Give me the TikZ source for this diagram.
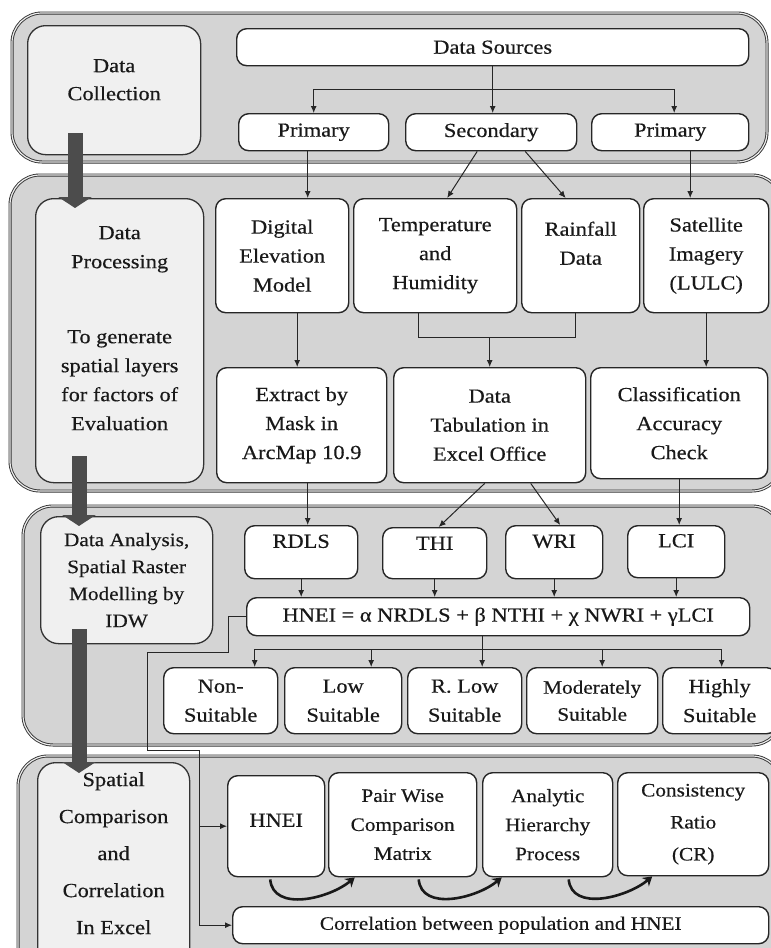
\documentclass[tikz,border=0pt]{standalone}
\usepackage{fontspec}
\setmainfont{Liberation Serif}[FakeStretch=1.12, FakeBold=0.4]
\usetikzlibrary{calc,arrows.meta}

\begin{document}
\begin{tikzpicture}[x=1pt, y=-1pt,
		font=\fontsize{20}{29}\selectfont,
		sect/.style={draw=black!80, line width=0.9pt, double=black!8, double distance=1.2pt, fill=black!17, rounded corners=30pt},
		side/.style={draw=black!80, line width=1.3pt, fill=black!6, rounded corners=18pt, align=center, inner sep=0pt, anchor=north west, text=black!90},
		box/.style={draw=black!85, line width=1.4pt, fill=white, rounded corners=10pt, align=center, inner sep=0pt, anchor=north west, text=black!90},
		link/.style={line width=1pt, draw=black!85},
		arr/.style={link, -{Latex[length=7pt,width=6pt]}},
		bigarrow/.style={line width=15pt, draw=black!70, -{Triangle[length=11pt,width=33pt]}},
		curvy/.style={line width=2.6pt, draw=black!90, -{Stealth[length=9pt,width=11pt]}}]
		%%%%% START %%%%%
		\useasboundingbox (0,0) rectangle (771,948);
		\clip (0,0) rectangle (771,948);
		\fill[white] (0,0) rectangle (771,948);
		
		% the four stages
		\draw[sect] (12,13) rectangle (767,162);
		\draw[sect] (10,175) rectangle (782,491);
		\draw[sect] (23,506) rectangle (782,745);
		\draw[sect] (18,756) rectangle (782,990);
		
		\node[side, minimum width=173pt, minimum height=129pt, text depth=21pt, font=\fontsize{20}{28}\selectfont] (dcoll) at (27,25) {Data\\Collection};
		\node[side, minimum width=168pt, minimum height=284pt, text depth=25pt] (dproc) at (35,198) {Data\\Processing\\[46pt]To generate\\spatial layers\\for factors of\\Evaluation};
		\node[side, minimum width=172pt, minimum height=127pt, font=\fontsize{19}{27}\selectfont] (danal) at (40,516) {Data Analysis,\\Spatial Raster\\Modelling by\\IDW};
		\node[side, minimum width=152pt, minimum height=230pt, text depth=49pt, font=\fontsize{20}{37}\selectfont] (dspat) at (37,762) {Spatial\\Comparison\\and\\Correlation\\In Excel};
		
		% collection
		\node[box, minimum width=512pt, minimum height=37pt] (src) at (236,28) {Data Sources};
		\node[box, minimum width=150pt, minimum height=37pt] (primA) at (238,113) {Primary};
		\node[box, minimum width=171pt, minimum height=37pt] (sec) at (405,113) {Secondary};
		\node[box, minimum width=157pt, minimum height=37pt] (primB) at (591,113) {Primary};
		
		% processing
		\node[box, minimum width=133pt, minimum height=114pt] (dem) at (215,198) {Digital\\Elevation\\Model};
		\node[box, minimum width=163pt, minimum height=114pt] (temp) at (353,198) {Temperature\\and\\Humidity};
		\node[box, minimum width=118pt, minimum height=114pt, text depth=25pt] (rain) at (521,198) {Rainfall\\Data};
		\node[box, minimum width=125pt, minimum height=114pt] (sat) at (643,198) {Satellite\\Imagery\\(LULC)};
		\node[box, minimum width=170pt, minimum height=115pt] (ext) at (216,367) {Extract by\\Mask in\\ArcMap 10.9};
		\node[box, minimum width=192pt, minimum height=115pt] (tab) at (393,367) {Data\\Tabulation in\\Excel Office};
		\node[box, minimum width=177pt, minimum height=111pt] (cls) at (590,367) {Classification\\Accuracy\\Check};
		
		% analysis
		\node[box, minimum width=113pt, minimum height=53pt, text depth=22pt] (rdls) at (244,525) {RDLS};
		\node[box, minimum width=104pt, minimum height=51pt, text depth=20pt] (thi) at (382,527) {THI};
		\node[box, minimum width=97pt, minimum height=53pt, text depth=22pt] (wri) at (505,525) {WRI};
		\node[box, minimum width=97pt, minimum height=52pt, text depth=22pt] (lci) at (627,525) {LCI};
		\node[box, minimum width=503pt, minimum height=38pt] (eq) at (246,597) {HNEI = α NRDLS + β NTHI + χ NWRI + γLCI};
		\node[box, minimum width=114pt, minimum height=66pt] (non) at (163,667) {Non-\\Suitable};
		\node[box, minimum width=117pt, minimum height=66pt] (low) at (284,667) {Low\\Suitable};
		\node[box, minimum width=114pt, minimum height=66pt] (rlow) at (407,667) {R. Low\\Suitable};
		\node[box, minimum width=131pt, minimum height=66pt, font=\fontsize{19}{27}\selectfont] (mod) at (526,667) {Moderately\\Suitable};
		\node[box, minimum width=114pt, minimum height=66pt] (high) at (662,667) {Highly\\Suitable};
		
		% comparison
		\node[box, minimum width=97pt, minimum height=101pt, text depth=12pt] (hnei) at (227,775) {HNEI};
		\node[box, minimum width=148pt, minimum height=104pt, font=\fontsize{19}{29}\selectfont] (pair) at (328,772) {Pair Wise\\Comparison\\Matrix};
		\node[box, minimum width=130pt, minimum height=104pt, font=\fontsize{19}{29}\selectfont] (ahp) at (482,772) {Analytic\\Hierarchy\\Process};
		\node[box, minimum width=151pt, minimum height=103pt, font=\fontsize{19}{32}\selectfont] (cr) at (617,772) {Consistency\\Ratio\\(CR)};
		\node[box, minimum width=536pt, minimum height=37pt, font=\fontsize{19}{29}\selectfont] (corr) at (232,906) {Correlation between population and HNEI};
		
		% sources
		\coordinate (fork) at ($(src.south)!0.5!(sec.north)$);
		\draw[arr] (src.south) -- (src.south |- sec.north);
		\draw[arr] (fork) -| (primA.north);
		\draw[arr] (fork) -| ([xshift=4pt]primB.north);
		
		\draw[arr] ([xshift=-6pt]primA.south) -- ([xshift=-6pt]primA.south |- dem.north);
		\draw[arr] ([xshift=-14pt]sec.south) -- ([xshift=12pt]temp.north);
		\draw[arr] ([xshift=34pt]sec.south) -- ([xshift=-15pt]rain.north);
		\draw[arr] ([xshift=20pt]primB.south) -- ([xshift=20pt]primB.south |- sat.north);
		
		\draw[arr] ([xshift=15pt]dem.south) -- ([xshift=15pt]dem.south |- ext.north);
		\coordinate (join) at ($(tab.north)+(0,-30)$);
		\draw[link] ([xshift=-17pt]temp.south) |- ([xshift=-5pt]rain.south |- join) -- ([xshift=-5pt]rain.south);
		\draw[arr] (join) -- (tab.north);
		\draw[arr] (sat.south) -- (sat.south |- cls.north);
		
		\draw[arr] ([xshift=6pt]ext.south) -- ([xshift=6pt]ext.south |- rdls.north);
		\draw[arr] ([xshift=-5pt]tab.south) -- ([xshift=4pt]thi.north);
		\draw[arr] ([xshift=41pt]tab.south) -- ([xshift=6pt]wri.north);
		\draw[arr] (cls.south) -- (cls.south |- lci.north);
		
		\foreach \b in {rdls,thi,wri,lci}
			\draw[arr] (\b.south) -- (\b.south |- eq.north);
		
		\coordinate (fork2) at ($(eq.south)+(0,13)$);
		\draw[arr] ([xshift=-16pt]eq.south) -- ([xshift=-16pt]eq.south |- rlow.north);
		\draw[link] ([xshift=34pt]non.north |- fork2) -- ([xshift=2pt]high.north |- fork2);
		\foreach \b/\s in {non/34,low/28,mod/10,high/2}
			\draw[arr] ([xshift=\s pt]\b.north |- fork2) -- ([xshift=\s pt]\b.north);
		
		% bypass to comparison
		\coordinate (b1) at (147,652);
		\coordinate (b2) at (199,750);
		\draw[arr] (eq.west) -- ++(-18,0) |- (b1) |- (b2) |- (corr.west);
		\draw[arr] (b2 |- hnei.west) -- (hnei.west);
		
		\draw[curvy] ([xshift=-6pt,yshift=-2pt]hnei.south) to[out=-85,in=-140] ([xshift=-48pt]pair.south);
		\draw[curvy] ([xshift=16pt,yshift=-2pt]pair.south) to[out=-85,in=-140] ([xshift=-46pt]ahp.south);
		\draw[curvy] ([xshift=21pt,yshift=-2pt]ahp.south) to[out=-85,in=-140] ([xshift=-41pt]cr.south);
		
		% stage arrows
		\draw[bigarrow] ([xshift=48pt,yshift=22pt]dcoll.south west) -- ([xshift=40pt,yshift=-10pt]dproc.north west);
		\draw[bigarrow] ([xshift=44pt,yshift=27pt]dproc.south west) -- ([xshift=39pt,yshift=-10pt]danal.north west);
		\draw[bigarrow] ([xshift=39pt,yshift=15pt]danal.south west) -- ([xshift=42pt,yshift=-11pt]dspat.north west);
		
		%%%%% END %%%%%
\end{tikzpicture}
\end{document}
